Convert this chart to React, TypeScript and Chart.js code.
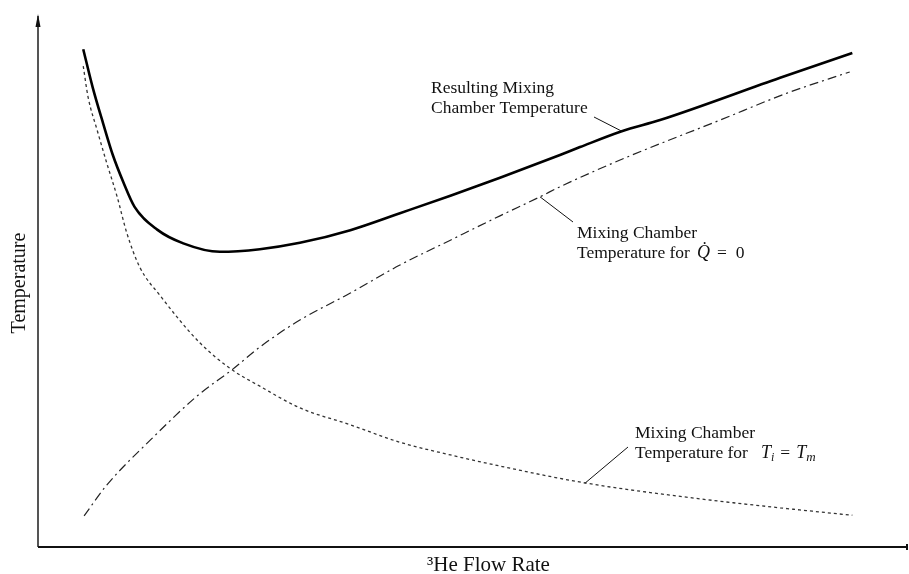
import { useEffect, useRef } from "react";
import { Chart, registerables } from "chart.js";

Chart.register(...registerables);

// Resulting mixing chamber temperature (solid)
const resultingFlow = [5.2, 6.3, 7.5, 8.6, 9.8, 11.1, 13.7, 16.7, 20.9, 25.5, 30.1, 35.9, 41.6, 47.4, 53.1, 60.0, 62.3, 67.1, 71.5, 85.3, 93.6];
const resultingTemp = [94.1, 86.8, 80.0, 74.1, 69.0, 64.3, 60.0, 57.4, 55.8, 56.3, 57.5, 59.9, 63.1, 66.4, 69.8, 74.1, 75.6, 78.6, 80.7, 88.7, 93.4];

// Mixing chamber temperature for zero heat load (dash-dot)
const zeroLoadFlow = [5.3, 7.9, 12.9, 18.4, 22.3, 25.5, 30.1, 35.9, 41.6, 47.4, 53.1, 57.7, 60.0, 67.7, 78.4, 86.1, 93.3];
const zeroLoadTemp = [5.9, 11.7, 20.2, 28.7, 33.5, 37.8, 42.9, 48.0, 53.3, 58.0, 62.6, 66.2, 68.1, 73.7, 80.7, 85.8, 89.8];

// Mixing chamber temperature for equal inlet / mixing temperatures (dotted)
const equalTempFlow = [5.2, 5.75, 6.8, 7.9, 9.1, 10.2, 11.7, 14.0, 18.6, 22.3, 25.5, 30.1, 35.9, 41.6, 47.4, 53.1, 62.9, 76.1, 85.3, 93.6];
const equalTempTemp = [90.9, 85.1, 78.8, 72.6, 66.2, 59.4, 52.9, 47.6, 38.6, 33.5, 30.4, 26.3, 23.1, 19.8, 17.4, 15.3, 12.1, 9.1, 7.4, 6.0];

const xAxisTitle = "³He Flow Rate";
const yAxisTitle = "Temperature";

const SERIF = '"Liberation Serif", "Times New Roman", serif';
const TEXT_SIZE = 17.5;

const pairs = (xs: number[], ys: number[]) => xs.map((x, i) => ({ x, y: ys[i] }));

type Run = { text: string; italic?: boolean; size?: number; dy?: number; pad?: number };
type Note = {
  lines: Run[][];
  left: number;
  baseline: number;
  leaderFrom: [number, number];
  target: { dataset: number; index: number };
};

// Callout labels with leader lines pointing to a point on a curve
const notes: Note[] = [
  {
    lines: [[{ text: "Resulting Mixing" }], [{ text: "Chamber Temperature" }]],
    left: 431,
    baseline: 93,
    leaderFrom: [594, 117],
    target: { dataset: 0, index: 17 },
  },
  {
    lines: [
      [{ text: "Mixing Chamber" }],
      [
        { text: "Temperature for" },
        { text: "Q\u0307", italic: true, size: 18, pad: 7 },
        { text: "=", pad: 7 },
        { text: "0", pad: 9 },
      ],
    ],
    left: 577,
    baseline: 238,
    leaderFrom: [573, 222],
    target: { dataset: 1, index: 11 },
  },
  {
    lines: [
      [{ text: "Mixing Chamber" }],
      [
        { text: "Temperature for" },
        { text: "T", italic: true, size: 18, pad: 13 },
        { text: "i", italic: true, size: 12, dy: 3, pad: 0 },
        { text: "=", pad: 6 },
        { text: "T", italic: true, size: 18, pad: 6 },
        { text: "m", italic: true, size: 13, dy: 3, pad: 0 },
      ],
    ],
    left: 635,
    baseline: 438,
    leaderFrom: [628, 447],
    target: { dataset: 2, index: 16 },
  },
];

function drawRuns(ctx: CanvasRenderingContext2D, x: number, y: number, runs: Run[]) {
  let cx = x;
  for (const r of runs) {
    const size = r.size ?? TEXT_SIZE;
    cx += r.pad ?? 0;
    ctx.font = `${r.italic ? "italic " : ""}${size}px ${SERIF}`;
    ctx.fillText(r.text, cx, y + (r.dy ?? 0));
    cx += ctx.measureText(r.text).width;
  }
}

const decorations = {
  id: "decorations",
  afterDatasetsDraw(chart: Chart) {
    const { ctx, chartArea } = chart;
    const { left, right, top, bottom } = chartArea;
    ctx.save();

    // Vertical axis with arrow head
    ctx.strokeStyle = "#555";
    ctx.lineWidth = 2;
    ctx.beginPath();
    ctx.moveTo(left, bottom);
    ctx.lineTo(left, top - 2);
    ctx.stroke();
    ctx.fillStyle = "#111";
    ctx.beginPath();
    ctx.moveTo(left, top - 4);
    ctx.lineTo(left - 2.5, top + 9);
    ctx.lineTo(left + 2.5, top + 9);
    ctx.closePath();
    ctx.fill();

    // Horizontal axis
    ctx.strokeStyle = "#111";
    ctx.lineWidth = 2;
    ctx.beginPath();
    ctx.moveTo(left, bottom);
    ctx.lineTo(right, bottom);
    ctx.stroke();
    ctx.fillRect(right - 2, bottom - 3, 2, 6);

    // Axis titles
    ctx.fillStyle = "#111";
    ctx.textBaseline = "alphabetic";
    ctx.font = `21px ${SERIF}`;
    ctx.textAlign = "left";
    ctx.fillText(xAxisTitle, 427, 571);

    ctx.save();
    ctx.translate(25, 283);
    ctx.rotate(-Math.PI / 2);
    ctx.textAlign = "center";
    ctx.font = `20px ${SERIF}`;
    ctx.fillText(yAxisTitle, 0, 0);
    ctx.restore();

    // Callouts
    ctx.textAlign = "left";
    for (const n of notes) {
      n.lines.forEach((runs, i) => drawRuns(ctx, n.left, n.baseline + i * 20, runs));
      const ds = chart.data.datasets[n.target.dataset].data[n.target.index] as { x: number; y: number };
      const tx = chart.scales.x.getPixelForValue(ds.x);
      const ty = chart.scales.y.getPixelForValue(ds.y);
      ctx.strokeStyle = "#111";
      ctx.lineWidth = 1;
      ctx.beginPath();
      ctx.moveTo(n.leaderFrom[0], n.leaderFrom[1]);
      ctx.lineTo(tx, ty);
      ctx.stroke();
    }
    ctx.restore();
  },
};

export default function App() {
  const canvasRef = useRef<HTMLCanvasElement | null>(null);

  useEffect(() => {
    const canvas = canvasRef.current;
    if (!canvas) return;
    const chart = new Chart(canvas, {
      type: "line",
      data: {
        datasets: [
          {
            label: "Resulting Mixing Chamber Temperature",
            data: pairs(resultingFlow, resultingTemp),
            borderColor: "#000",
            borderWidth: 2.6,
            pointRadius: 0,
            cubicInterpolationMode: "monotone",
          },
          {
            label: "Mixing Chamber Temperature for Q = 0",
            data: pairs(zeroLoadFlow, zeroLoadTemp),
            borderColor: "#222",
            borderWidth: 1.2,
            borderDash: [9, 4, 2, 4],
            pointRadius: 0,
            cubicInterpolationMode: "monotone",
          },
          {
            label: "Mixing Chamber Temperature for Ti = Tm",
            data: pairs(equalTempFlow, equalTempTemp),
            borderColor: "#333",
            borderWidth: 1.3,
            borderDash: [3, 3],
            pointRadius: 0,
            cubicInterpolationMode: "monotone",
          },
        ],
      },
      options: {
        animation: false,
        responsive: false,
        layout: { padding: { left: 38, right: 1, top: 18, bottom: 27 } },
        plugins: { legend: { display: false }, tooltip: { enabled: false } },
        scales: {
          x: { type: "linear", min: 0, max: 100, display: false },
          y: { type: "linear", min: 0, max: 100, display: false },
        },
      },
      plugins: [decorations],
    });
    return () => chart.destroy();
  }, []);

  return (
    <div style={{ position: "absolute", left: 0, top: 0, width: 909, height: 574, background: "#fff" }}>
      <canvas ref={canvasRef} width={909} height={574} style={{ display: "block" }} />
    </div>
  );
}
